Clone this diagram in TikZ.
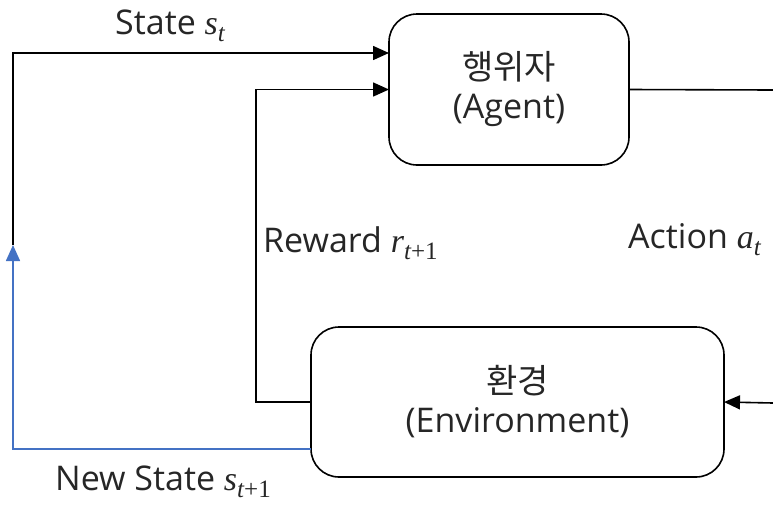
\documentclass[tikz,border=0pt]{standalone}
\usepackage{fontspec}
\setmainfont{Open Sans}
\newfontfamily\kr{Noto Sans CJK KR}
\newfontfamily\symfont{Liberation Serif}[ItalicFont={Liberation Serif Italic}]
\usetikzlibrary{arrows.meta}
\definecolor{newstate}{HTML}{4472C4}
\definecolor{ink}{HTML}{262626}
% italic symbol with a lowered subscript; #3 is an upright tail such as +1
\newcommand\symsub[3]{{\symfont\itshape #1}\raisebox{-0.22em}{\fontsize{25}{25}\selectfont\symfont{\itshape #2}#3}}
\begin{document}
\begin{tikzpicture}[x=1pt,y=-1pt,
  every node/.style={text=ink, font=\fontsize{34}{39}\selectfont},
  block/.style={draw=black, line width=1.6pt, rounded corners=28pt,
    outer sep=0pt, inner sep=0pt, align=center},
  label/.style={inner sep=0pt, anchor=base west},
  link/.style={draw=black, line width=1.6pt},
  arr/.style={link, -{Triangle[length=16pt,width=14pt]}},
  bluearr/.style={draw=newstate, line width=1.6pt, -{Triangle[length=16pt,width=14pt]}}]
  \useasboundingbox (0,0) rectangle (773,504);

  % the two blocks
  \node[block, minimum width=240pt, minimum height=151pt] (agent) at (509,89.5)
    {{\kr 행위자}\\(Agent)};
  \node[block, minimum width=413pt, minimum height=150pt] (env) at (517.5,402)
    {{\kr 환경}\\(Environment)};

  % loose ends on the left and right edges
  \coordinate (ns) at (13,245);
  \coordinate (ar) at (773,90);
  \coordinate (ae) at (773,403);

  % state feedback into the agent
  \draw[arr] (ns) |- ([yshift=36.5pt]agent.west);

  % reward from the environment
  \draw[arr] (env.west) -- ++(-55,0) |- (agent.west);

  % action from the agent to the environment
  \draw[link] (agent.east) -- (ar);
  \draw[arr] (ae) -- (env.east);

  % new state
  \draw[bluearr] ([yshift=-47pt]env.west) -| (ns);

  % labels
  \node[label] (lst) at (115,34) {State \symsub{s}{t}{}};
  \node[label] (lrw) at (263,252) {Reward \symsub{r}{t}{+1}};
  \node[label] (lac) at (628,248) {Action \symsub{a}{t}{}};
  \node[label] (lns) at (55,490) {New State \symsub{s}{t}{+1}};
\end{tikzpicture}
\end{document}
